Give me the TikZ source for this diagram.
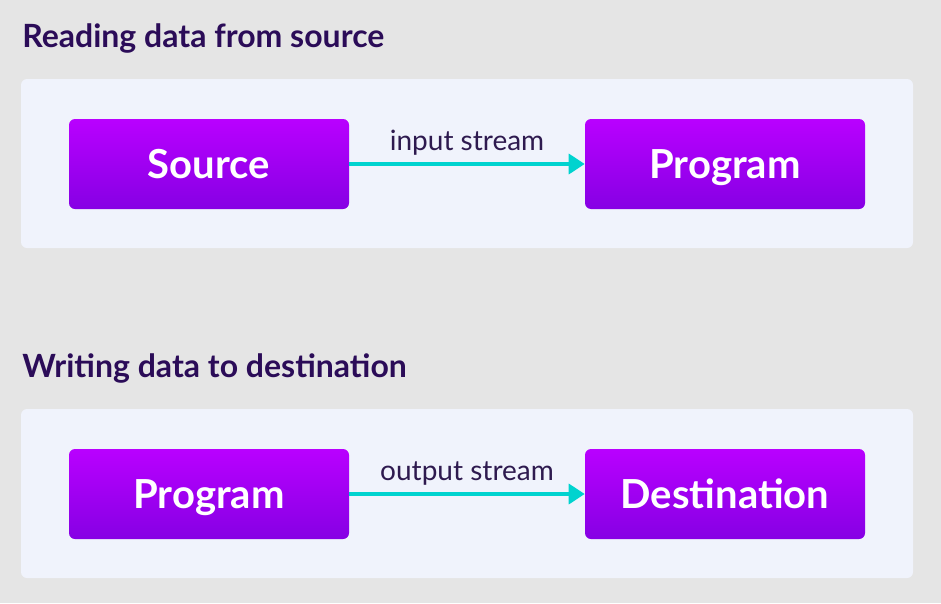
\documentclass[tikz,border=0pt]{standalone}
\usepackage{fontspec}
\setmainfont{Lato}
\usetikzlibrary{positioning,arrows.meta,backgrounds}

\definecolor{pagegray}{HTML}{E5E5E5}
\definecolor{panelblue}{HTML}{F0F3FC}
\definecolor{glowblue}{HTML}{DAE6FB}
\definecolor{boxtop}{HTML}{B900FF}
\definecolor{boxbot}{HTML}{8600E4}
\definecolor{streamcyan}{HTML}{00D3CF}
\definecolor{titleink}{HTML}{2B0C58}
\definecolor{labelink}{HTML}{2E1A4F}

\pgfdeclarelayer{glow}
\pgfsetlayers{background,glow,main}

\tikzset{
  panel/.style={fill=panelblue, draw=none, rounded corners=4.5pt},
  stage/.style={rectangle, rounded corners=4.5pt, draw=none,
    top color=boxtop, bottom color=boxbot, text=white,
    minimum width=210pt, minimum height=67.5pt,
    text height=21.8pt, text depth=0pt,
    font=\fontsize{30}{33}\selectfont\bfseries},
  heading/.style={anchor=base west, text=titleink, inner sep=0pt,
    font=\fontsize{24}{27}\selectfont\bfseries},
  streamlabel/.style={text=labelink, inner sep=0pt, anchor=base,
    yshift=10.5pt, font=\fontsize{21}{24}\selectfont},
  stream/.style={-{Triangle[width=15pt,length=12pt]}, line width=2.6pt,
    draw=streamcyan},
  glowband/.style={top color=glowblue, bottom color=panelblue, draw=none}
}

\begin{document}
\begin{tikzpicture}[x=0.75pt,y=-0.75pt]
\useasboundingbox[fill=pagegray] (0,0) rectangle (941,603);

% reading
\node[heading] (readtitle) at (22,47) {Reading data from source};
\fill[panel] (21,79) rectangle (913,248);
\node[stage] (source) at (209,164) {Source};
\node[stage] (progin) at (725,164) {Program};
\draw[stream] (source) -- node[streamlabel] (instream) {input stream} (progin);

% writing
\node[heading] (writetitle) at (22,377) {Writing data to destination};
\fill[panel] (21,409) rectangle (913,578);
\node[stage] (progout) at (209,494) {Program};
\node[stage] (dest) at (725,494) {Destination};
\draw[stream] (progout) -- node[streamlabel] (outstream) {output stream} (dest);

% soft glow under the boxes
\begin{pgfonlayer}{glow}
\foreach \b in {source,progin,progout,dest}
  \fill[glowband] ([xshift=3pt,yshift=3pt]\b.south west)
    rectangle ([xshift=-3pt,yshift=-14pt]\b.south east);
\end{pgfonlayer}

\end{tikzpicture}
\end{document}
